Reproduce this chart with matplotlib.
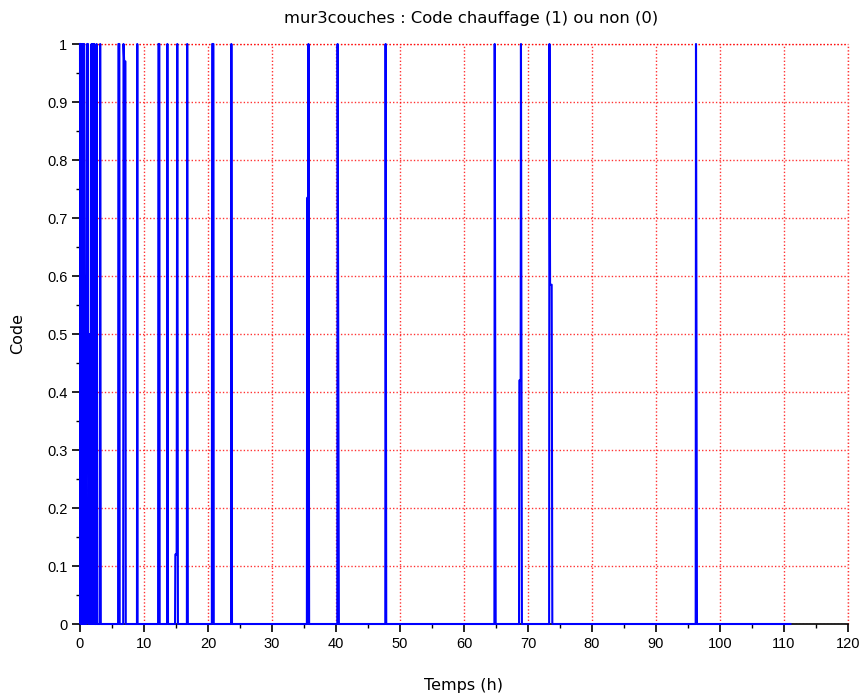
import matplotlib
matplotlib.use("Agg")
import matplotlib.pyplot as plt
from matplotlib.ticker import MultipleLocator

# Heating code time series (hours, code)
temps = [0.0, 0.06, 0.12, 0.18, 0.24, 0.3, 0.36, 0.42, 0.48, 0.54, 0.6, 0.66, 0.75, 0.85, 0.95, 1.05, 1.1, 1.25, 1.33,
         1.5, 1.56, 1.62, 1.68, 1.74, 1.8, 1.86, 1.92, 1.98, 2.04, 2.1, 2.16, 2.22, 2.3, 2.55, 2.6, 2.7, 3.1, 3.15, 3.25,
         5.95, 6.0, 6.15, 6.2,
         6.75, 6.8, 6.9, 7.1, 7.15,
         8.9, 8.95, 9.0,
         12.2, 12.25, 12.4, 12.45,
         13.6, 13.65, 13.75,
         14.85, 14.9, 15.1, 15.2, 15.3,
         16.7, 16.75, 16.85,
         20.6, 20.65, 20.85, 20.9,
         23.6, 23.65, 23.75,
         35.45, 35.5, 35.6, 35.65, 35.7, 35.8,
         40.2, 40.25, 40.45,
         47.7, 47.75, 47.85,
         64.75, 64.8, 64.95,
         68.6, 68.65, 68.85, 68.9, 69.05,
         73.3, 73.35, 73.45, 73.7, 73.8,
         96.2, 96.25, 96.4,
         111.0]
code = [1, 0, 1, 0, 1, 0, 1, 0, 1, 0, 1, 1, 0, 0.6, 0, 0.8, 1, 1, 0,
        0.5, 0, 0.4, 0, 0.45, 1, 0, 1, 0, 0.6, 1, 0, 1, 0, 0, 1, 0, 0, 1, 0,
        0, 1, 1, 0,
        0, 1, 0.97, 0.97, 0,
        0, 1, 0,
        0, 1, 1, 0,
        0, 1, 0,
        0, 0.12, 0.12, 1, 0,
        0, 1, 0,
        0, 1, 1, 0,
        0, 1, 0,
        0, 0.735, 0.735, 0, 1, 0,
        0, 1, 0,
        0, 1, 0,
        0, 1, 0,
        0, 0.42, 0.42, 1, 0,
        0, 1, 0.585, 0.585, 0,
        0, 1, 0,
        0]

x_ticks = list(range(0, 121, 10))
y_ticks = [round(0.1 * i, 1) for i in range(11)]

plt.rcParams['font.family'] = ['Liberation Sans', 'DejaVu Sans']

fig = plt.figure(figsize=(8.64, 6.96), dpi=100)
ax = fig.add_axes([80/864, 72/696, 768/864, 580/696])

ax.plot(temps, code, color='#0000ff', linewidth=1.5, zorder=4, clip_on=False)

ax.set_xlim(0, 120)
ax.set_ylim(0, 1)
ax.set_xticks(x_ticks)
ax.set_yticks(y_ticks)
ax.xaxis.set_minor_locator(MultipleLocator(5))
ax.yaxis.set_minor_locator(MultipleLocator(0.05))
ax.set_xticklabels([str(v) for v in x_ticks])
ax.set_yticklabels(['0' if v == 0 else ('1' if v == 1 else f'{v:g}') for v in y_ticks])

grid_style = dict(color='#ff0000', linestyle=(0, (1, 1.5)), linewidth=1.0, alpha=0.8)
ax.grid(True, which='major', **grid_style)
ax.set_axisbelow(True)

for s in ['top', 'right']:
    ax.spines[s].set_visible(False)
for s in ['left', 'bottom']:
    ax.spines[s].set_linewidth(1.2)
    ax.spines[s].set_zorder(3)

ax.tick_params(which='major', direction='out', length=6, width=1.2, labelsize=10.5, pad=3)
ax.tick_params(which='minor', direction='out', length=3, width=1.0)

ax.axhline(1, zorder=1, clip_on=False, **grid_style)
ax.axvline(120, zorder=1, clip_on=False, **grid_style)

fig.text(471/864, 1 - 18/696, 'mur3couches : Code chauffage (1) ou non (0)', ha='center', va='center',
         fontsize=11.8, family=['DejaVu Sans'])
ax.set_xlabel('Temps (h)', fontsize=11.5, labelpad=20, family=['DejaVu Sans'])
ax.set_ylabel('Code', fontsize=11.5, labelpad=16, family=['DejaVu Sans'])

fig.savefig('out.png', dpi=100)
